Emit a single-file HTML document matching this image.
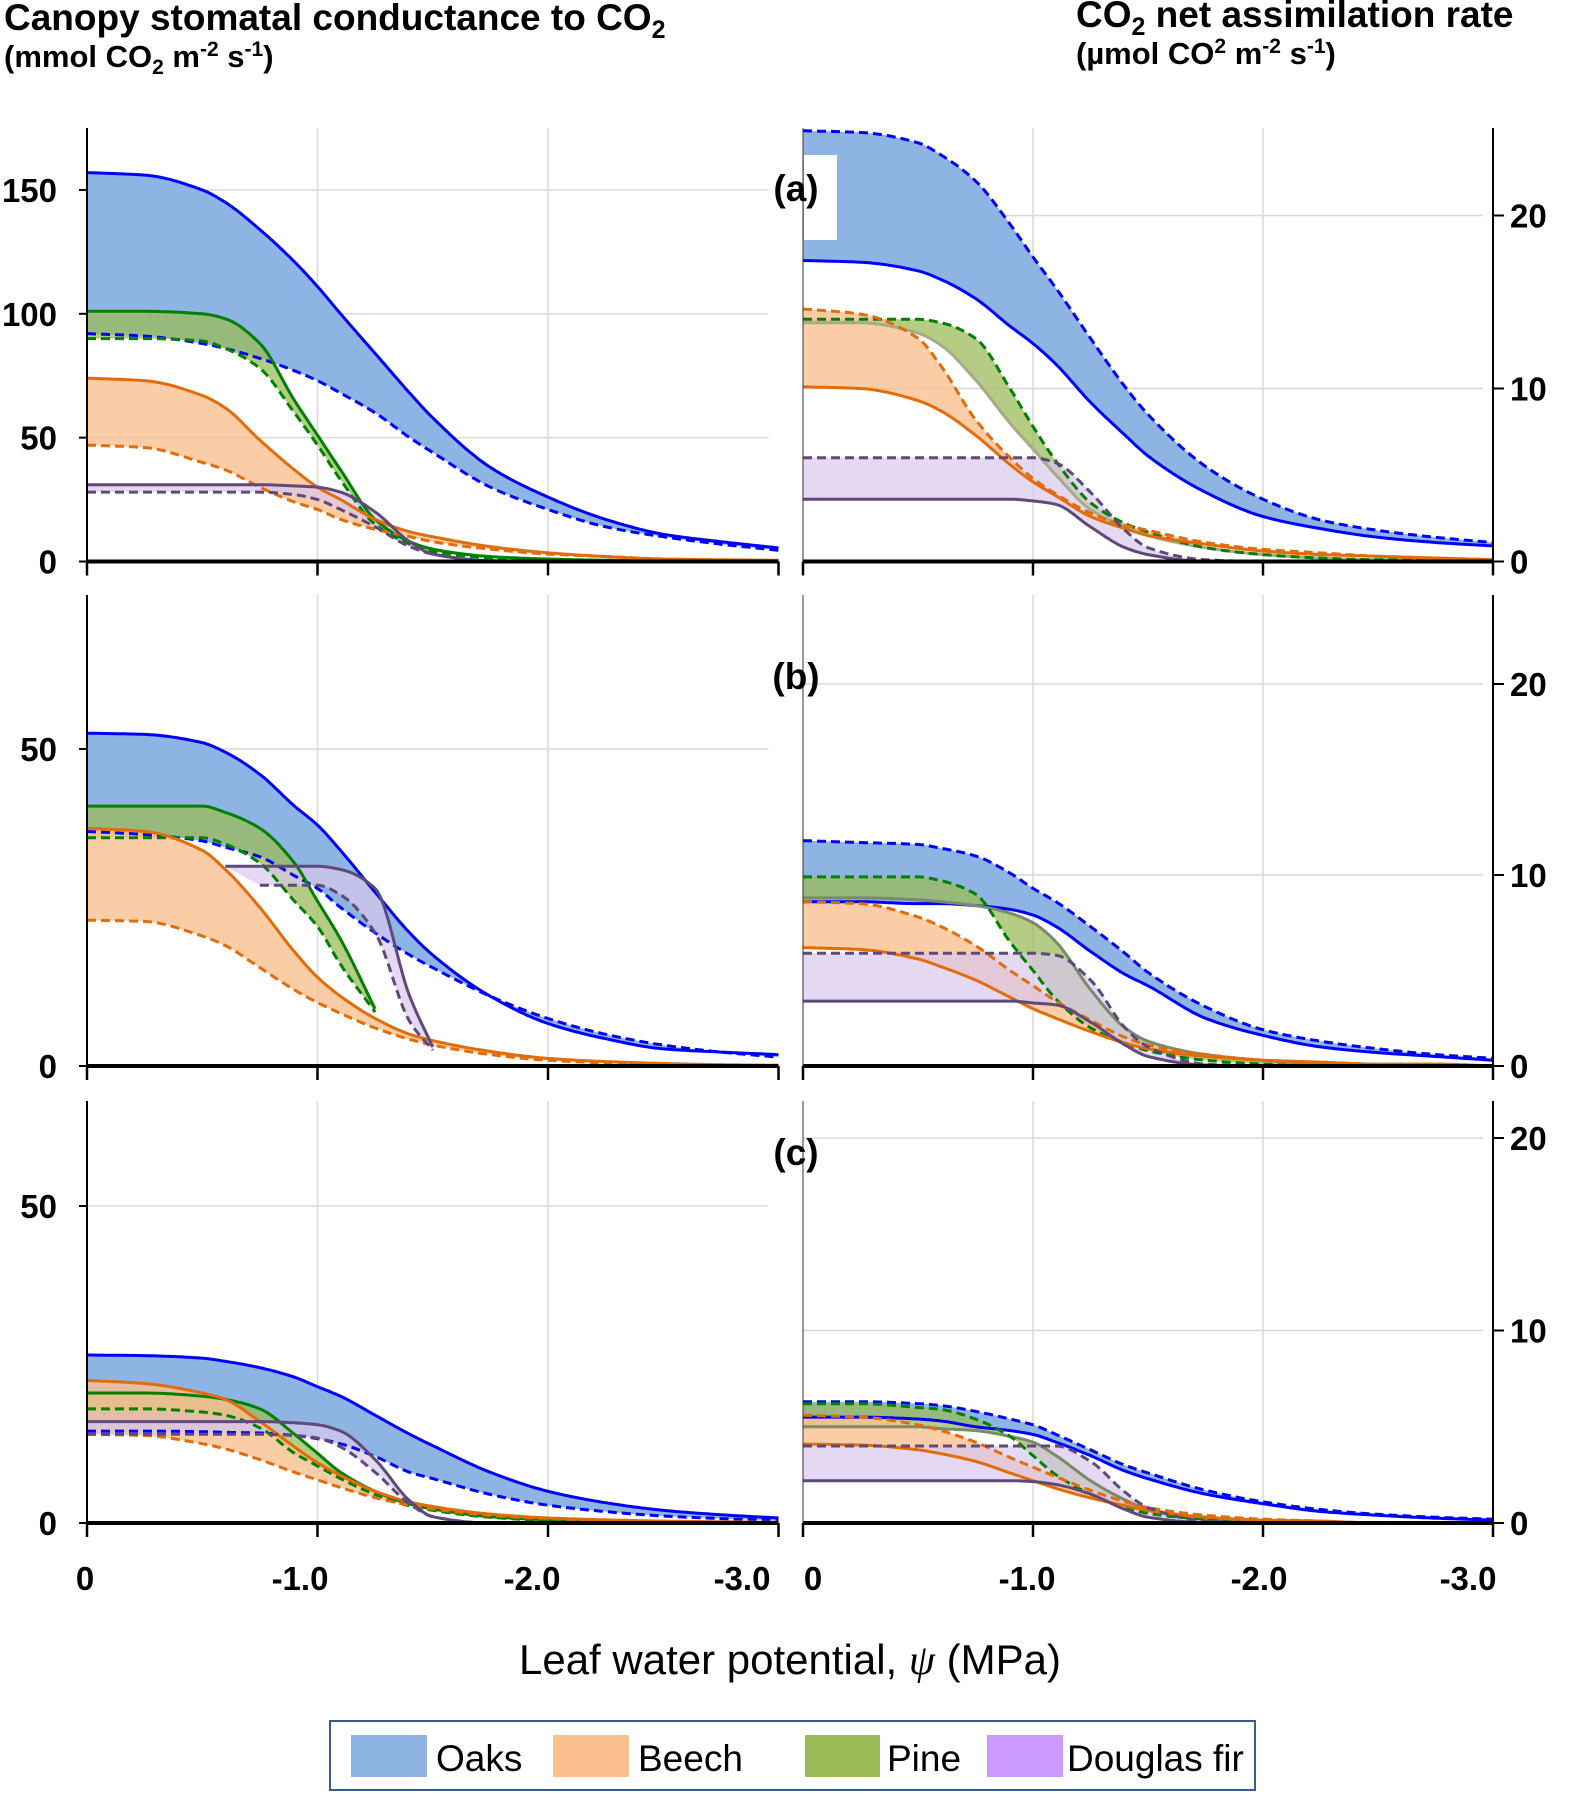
<!DOCTYPE html>
<html><head><meta charset="utf-8">
<style>
html,body{margin:0;padding:0;background:#fff;}
body{width:1570px;height:1793px;overflow:hidden;font-family:"Liberation Sans",Arial,sans-serif;}
svg text{font-family:"Liberation Sans",Arial,sans-serif;}
</style></head>
<body>
<svg id="chart" width="1570" height="1793" viewBox="0 0 1570 1793" xmlns="http://www.w3.org/2000/svg">
  <g font-weight="bold" fill="#000">
    <text x="4" y="30" font-size="37">Canopy stomatal conductance to CO<tspan font-size="25" dy="8">2</tspan></text>
    <text x="4" y="67" font-size="31">(mmol CO<tspan font-size="21" dy="7">2</tspan><tspan dy="-7"> m</tspan><tspan font-size="21" dy="-11">-2</tspan><tspan dy="11"> s</tspan><tspan font-size="21" dy="-11">-1</tspan><tspan dy="11">)</tspan></text>
    <text x="1076" y="27" font-size="37">CO<tspan font-size="25" dy="8">2</tspan><tspan dy="-8"> net assimilation rate</tspan></text>
    <text x="1076" y="64" font-size="31">(µmol CO<tspan font-size="21" dy="-11">2</tspan><tspan dy="11"> m</tspan><tspan font-size="21" dy="-11">-2</tspan><tspan dy="11"> s</tspan><tspan font-size="21" dy="-11">-1</tspan><tspan dy="11">)</tspan></text>
  </g>
  <g id="plots"></g>
  <text x="790" y="1674" font-size="42" text-anchor="middle">Leaf water potential, <tspan font-style="italic" font-family="Liberation Serif, serif">ψ</tspan> (MPa)</text>
  <g>
    <rect x="330" y="1721" width="925" height="69" fill="#fff" stroke="#385d8a" stroke-width="2"/>
    <rect x="351" y="1735" width="76" height="42" fill="#8eb4e3"/>
    <text x="436" y="1771" font-size="37">Oaks</text>
    <rect x="553" y="1735" width="76" height="42" fill="#fac090"/>
    <text x="638" y="1771" font-size="37">Beech</text>
    <rect x="805" y="1735" width="75" height="42" fill="#9bbb59"/>
    <text x="887" y="1771" font-size="37">Pine</text>
    <rect x="987" y="1735" width="76" height="42" fill="#cc99ff"/>
    <text x="1067" y="1771" font-size="37">Douglas fir</text>
  </g>
</svg>
<script>
// shared psi grid (MPa)
const psiGrid = [0,-0.25,-0.5,-0.6,-0.75,-0.9,-1.0,-1.1,-1.25,-1.4,-1.5,-1.75,-2.0,-2.25,-2.5,-2.75,-3.0];
const xTickLabels = ["0","-1.0","-2.0","-3.0"];
const xTickValues = [0,-1,-2,-3];
const N = null;
// Panel (a) left: stomatal conductance
const aL_oakSolid   = [157,156,150,145,134,121,111,100,84,68,58,38,26,17,11,8,5.5];
const aL_oakDash    = [92,91,88,86,82,77,73,68,60,50,44,30,21,14,10,7,4.5];
const aL_pineSolid  = [101,101,100,98,88,65,51,37,17,8,5,2,1,0.5,0.3,0.2,0.1];
const aL_pineDash   = [90,90,89,86,78,60,47,33,15,7,4,1.5,0.8,0.4,0.2,0.1,0.1];
const aL_beechSolid = [74,73,67,62,49,37,30,25,17,12,10,6,3.5,2,1,0.7,0.5];
const aL_beechDash  = [47,46,40,37,30,24,21,17,13,10,8,5,3,2,1,0.5,0.3];
const aL_dfSolid    = [31,31,31,31,31,30.5,30,28,20,8,3,0.3,0,0,0,0,0];
const aL_dfDash     = [28,28,28,28,28,27,25,21,14,6,3,0.3,0,0,0,0,0];
// Panel (a) right: assimilation
const aR_oakDash    = [24.9,24.8,24.2,23.5,22,19.5,17.6,15.8,12.9,10.1,8.5,5.5,3.6,2.4,1.8,1.4,1.1];
const aR_oakSolid   = [17.4,17.3,16.8,16.3,15.2,13.6,12.6,11.4,9.2,7.3,6.1,4,2.6,1.9,1.4,1.1,0.9];
const aR_pineDash   = [14,14,14,13.8,12.9,10,7.8,5.8,3.4,2.2,1.7,0.8,0.4,0.2,0.1,0.1,0];
const aR_pineSolid  = [13.8,13.8,13.2,12.5,10.5,8,6.5,5,3,2,1.5,0.8,0.4,0.2,0.1,0.1,0];
const aR_beechDash  = [14.6,14.3,12.9,11.3,8.2,6,4.8,3.9,2.8,2.1,1.8,1.1,0.7,0.5,0.3,0.2,0.1];
const aR_beechSolid = [10.1,10,9.3,8.7,7.3,5.6,4.6,3.8,2.6,1.9,1.5,1,0.6,0.4,0.3,0.2,0.1];
const aR_dfDash     = [6,6,6,6,6,6,6,5.7,4,1.8,0.8,0.1,0,0,0,0,0];
const aR_dfSolid    = [3.6,3.6,3.6,3.6,3.6,3.6,3.5,3.3,2,0.8,0.4,0,0,0,0,0,0];
// Panel (b) left
const bL_oakSolid   = [52.5,52.3,51,49.5,46,41,38,34,27.4,21,17.5,11,6.7,4.3,2.7,2.2,1.8];
const bL_oakDash    = [37,36.5,35.5,34.5,33,30,28,25,21,17.5,15.5,11,7.5,5,3.3,2.2,1.4];
const bL_pineSolid  = [41,41,41,40,37.5,32,26,20,9,N,N,N,N,N,N,N,N];
const bL_pineDash   = [36,36,36,35,32,26,22,16,8.5,N,N,N,N,N,N,N,N];
const bL_beechSolid = [37.5,37,34,31,25,18,14,11,7.5,5,4,2.3,1.2,0.7,0.4,0.2,0.1];
const bL_beechDash  = [23,22.8,20.5,19,15.5,12,10,8.3,6,4.2,3.3,1.8,0.9,0.5,0.3,0.2,0.1];
const bL_dfSolid    = [N,N,N,31.5,31.5,31.5,31.5,31,28,11,3,N,N,N,N,N,N];
const bL_dfDash     = [N,N,N,N,28.5,28.5,28.5,27,21,7,2.5,N,N,N,N,N,N];
// Panel (b) right
const bR_oakDash    = [11.8,11.7,11.6,11.4,11,10.1,9.3,8.6,7.3,5.9,4.9,3.1,1.9,1.3,0.9,0.6,0.4];
const bR_oakSolid   = [8.6,8.6,8.5,8.5,8.4,8.2,7.9,7.3,6,4.8,4.2,2.5,1.6,1,0.7,0.5,0.3];
const bR_pineDash   = [9.9,9.9,9.9,9.7,9,6.5,5,3.5,2,1.2,0.8,0.3,0.1,0,0,0,0];
const bR_pineSolid  = [8.8,8.8,8.7,8.6,8.4,8,7.5,6.5,4,2,1.3,0.6,0.3,0.1,0,0,0];
const bR_beechDash  = [8.6,8.5,7.8,7.3,6.3,5,4.2,3.4,2.4,1.5,1.1,0.6,0.3,0.2,0.1,0.1,0];
const bR_beechSolid = [6.2,6.1,5.6,5.2,4.5,3.6,3,2.5,1.8,1.2,0.9,0.5,0.3,0.2,0.1,0.1,0];
const bR_dfDash     = [5.9,5.9,5.9,5.9,5.9,5.9,5.9,5.8,4.5,2,1,0.1,0,0,0,0,0];
const bR_dfSolid    = [3.4,3.4,3.4,3.4,3.4,3.4,3.3,3.2,2.3,1.1,0.5,0.05,0,0,0,0,0];
// Panel (c) left
const cL_oakSolid   = [26.5,26.4,26,25.5,24.5,23,21.5,20,17,14,12.2,8,5,3.2,2,1.3,0.8];
const cL_oakDash    = [14.5,14.5,14.4,14.3,14.2,13.8,13.3,12.5,10.5,8,7,4.5,2.8,1.8,1.1,0.7,0.4];
const cL_pineSolid  = [20.5,20.5,20,19.5,18,14,11,8,5,3,2.2,1,0.5,0.2,0.1,0,0];
const cL_pineDash   = [18,18,17.5,17,15,11,9,7,4.5,2.7,2,0.9,0.4,0.2,0.1,0,0];
const cL_beechSolid = [22.5,22,20.5,19.5,16,12,9.5,7.5,5,3.3,2.6,1.4,0.8,0.5,0.3,0.2,0.1];
const cL_beechDash  = [14,13.8,12.5,11.7,10,8,6.8,5.6,4,2.8,2.2,1.2,0.7,0.4,0.2,0.1,0];
const cL_dfSolid    = [16,16,16,16,16,15.8,15.5,14.5,10,3.5,1,0,0,0,0,0,0];
const cL_dfDash     = [14,14,14,14,14,13.8,13.4,12,8,3,1,0,0,0,0,0,0];
// Panel (c) right
const cR_oakDash    = [6.3,6.3,6.2,6.1,5.8,5.4,5.1,4.6,3.8,3,2.6,1.7,1.1,0.7,0.45,0.3,0.2];
const cR_oakSolid   = [5.5,5.5,5.4,5.3,5,4.8,4.6,4.2,3.5,2.7,2.3,1.5,1,0.6,0.4,0.25,0.15];
const cR_pineDash   = [6.2,6.2,6,5.9,5.4,4.5,3.5,2.5,1.5,0.8,0.5,0.2,0.1,0,0,0,0];
const cR_pineSolid  = [5,5,5,4.9,4.8,4.5,4.2,3.5,2.2,1.2,0.7,0.2,0.1,0,0,0,0];
const cR_beechDash  = [5.6,5.5,5.1,4.8,4.2,3.4,2.9,2.4,1.7,1.1,0.8,0.4,0.2,0.1,0,0,0];
const cR_beechSolid = [4.1,4.05,3.8,3.6,3.2,2.6,2.2,1.8,1.3,0.9,0.65,0.3,0.15,0.1,0,0,0];
const cR_dfDash     = [4,4,4,4,4,4,4,4,3.2,1.6,0.8,0.1,0,0,0,0,0];
const cR_dfSolid    = [2.2,2.2,2.2,2.2,2.2,2.2,2.15,2,1.5,0.7,0.3,0.02,0,0,0,0,0];
// tick values
const aL_yTicks = [0,50,100,150];
const aR_yTicks = [0,10,20];
const bL_yTicks = [0,50];
const bR_yTicks = [0,10,20];
const cL_yTicks = [0,50];
const cR_yTicks = [0,10,20];

const NS = "http://www.w3.org/2000/svg";
const root = document.getElementById("plots");
function mk(tag, attrs, parent){
  const e = document.createElementNS(NS, tag);
  for (const k in attrs) e.setAttribute(k, attrs[k]);
  (parent||root).appendChild(e);
  return e;
}
const species = {
  oak:   {fill:"#8eb4e3", op:1,    line:"#0000ff"},
  pine:  {fill:"#9bbb59", op:0.75, line:"#008000"},
  beech: {fill:"#fac090", op:0.8,  line:"#e36c09"},
  df:    {fill:"#d9c8ee", op:0.7,  line:"#5f497a"}
};
function sampleCurve(xs, ys){
  const n = xs.length;
  if (n<2) return [[xs[0],ys[0]]];
  const d = [], m = new Array(n).fill(0);
  for (let i=0;i<n-1;i++) d.push((ys[i+1]-ys[i])/(xs[i+1]-xs[i]));
  m[0]=d[0]; m[n-1]=d[n-2];
  for (let i=1;i<n-1;i++){
    if (d[i-1]*d[i]<=0) m[i]=0;
    else { const h0=xs[i]-xs[i-1], h1=xs[i+1]-xs[i];
      const w1=2*h1+h0, w2=h1+2*h0; m[i]=(w1+w2)/(w1/d[i-1]+w2/d[i]); }
  }
  const out=[];
  for (let i=0;i<n-1;i++){
    const h=xs[i+1]-xs[i];
    for (let s=0;s<20;s++){
      const t=s/20, t2=t*t, t3=t2*t;
      const y=(2*t3-3*t2+1)*ys[i]+(t3-2*t2+t)*h*m[i]+(-2*t3+3*t2)*ys[i+1]+(t3-t2)*h*m[i+1];
      out.push([xs[i]+t*h, y]);
    }
  }
  out.push([xs[n-1], ys[n-1]]);
  return out;
}
function defined(arr){
  const xs=[], ys=[];
  arr.forEach((v,i)=>{ if(v!==null){ xs.push(-psiGrid[i]); ys.push(v);} });
  return [xs, ys];
}
function drawPanel(p){
  const g = mk("g", {});
  
  
  const X = v => p.x0 + p.kx*(-v);
  const Y = v => p.y0 - p.ky*v;
  p.yTicks.forEach(t => {
    if (t===0) return;
    const l = mk("line",{x1:p.x0,x2:p.x0+p.kx*3-10,y1:Y(t),y2:Y(t),stroke:"#d9d9d9","stroke-width":1.5},g);
    
    
  });
  [-1,-2].forEach(t => {
    const l = mk("line",{x1:X(t),x2:X(t),y1:p.top,y2:p.y0,stroke:"#d9d9d9","stroke-width":1.5},g);
    
    
  });
  p.series.forEach(s => {
    const sp = species[s.sp];
    const [xa, ya] = defined(s.solid), [xb, yb] = defined(s.dash);
    const A = sampleCurve(xa, ya), B = sampleCurve(xb, yb);
    const pts = A.map(q=>X(-q[0]).toFixed(1)+","+Y(q[1]).toFixed(1))
      .concat(B.slice().reverse().map(q=>X(-q[0]).toFixed(1)+","+Y(q[1]).toFixed(1)));
    const poly = mk("polygon",{points:pts.join(" "),fill:sp.fill,"fill-opacity":sp.op},g);
    
    
    s._A=A; s._B=B;
  });
  p.series.forEach(s => {
    const sp = species[s.sp];
    const col = s.lineSolid || sp.line;
    const pathA = "M"+s._A.map(q=>X(-q[0]).toFixed(1)+","+Y(q[1]).toFixed(1)).join("L");
    const pathB = "M"+s._B.map(q=>X(-q[0]).toFixed(1)+","+Y(q[1]).toFixed(1)).join("L");
    const la = mk("path",{d:pathA,fill:"none",stroke:col,"stroke-width":3},g);
    
    
    const lb = mk("path",{d:pathB,fill:"none",stroke:sp.line,"stroke-width":3,"stroke-dasharray":"9,5"},g);
    
    
  });
  const xl = X(-3);
  const za = mk("line",{x1:p.x0,x2:xl,y1:p.y0,y2:p.y0,stroke:"#000","stroke-width":4},g);
  
  
  xTickValues.forEach(t=>{
    const tk = mk("line",{x1:X(t),x2:X(t),y1:p.y0,y2:p.y0+14,stroke:"#000","stroke-width":2.5},g);
    
    
  });
  const axX = p.side==="L" ? p.x0 : xl;
  const va = mk("line",{x1:axX,x2:axX,y1:p.top,y2:p.y0,stroke:"#000","stroke-width":2},g);
  
  
  if (p.side==="R"){
    const vl = mk("line",{x1:p.x0,x2:p.x0,y1:p.top,y2:p.y0,stroke:"#333","stroke-width":1},g);
    
    
  }
  p.yTicks.forEach(t=>{
    const y = Y(t);
    const tk = mk("line",{x1:p.side==="L"?axX-8:axX,x2:p.side==="L"?axX:axX+11,y1:y,y2:y,stroke:"#000","stroke-width":2},g);
    
    
    const tx = mk("text",{x:p.side==="L"?57:1510,y:y+12,"font-size":33,"font-weight":"bold","text-anchor":p.side==="L"?"end":"start"},g);
    tx.textContent = String(t);
    
    
  });
}
const panels = [
 {name:"panel-a-conductance",side:"L",x0:87,kx:230.5,y0:561.5,ky:2.477,top:128,yTicks:aL_yTicks,series:[
   {sp:"oak",solid:aL_oakSolid,dash:aL_oakDash},{sp:"pine",solid:aL_pineSolid,dash:aL_pineDash},
   {sp:"beech",solid:aL_beechSolid,dash:aL_beechDash},{sp:"df",solid:aL_dfSolid,dash:aL_dfDash}]},
 {name:"panel-a-assimilation",side:"R",x0:803,kx:230,y0:561.5,ky:17.3,top:128,yTicks:aR_yTicks,series:[
   {sp:"oak",solid:aR_oakSolid,dash:aR_oakDash},{sp:"pine",solid:aR_pineSolid,dash:aR_pineDash,lineSolid:"#a8a88a"},
   {sp:"beech",solid:aR_beechSolid,dash:aR_beechDash},{sp:"df",solid:aR_dfSolid,dash:aR_dfDash}]},
 {name:"panel-b-conductance",side:"L",x0:87,kx:230.5,y0:1066,ky:6.34,top:595,yTicks:bL_yTicks,series:[
   {sp:"oak",solid:bL_oakSolid,dash:bL_oakDash},{sp:"pine",solid:bL_pineSolid,dash:bL_pineDash},
   {sp:"beech",solid:bL_beechSolid,dash:bL_beechDash},{sp:"df",solid:bL_dfSolid,dash:bL_dfDash}]},
 {name:"panel-b-assimilation",side:"R",x0:803,kx:230,y0:1066,ky:19.1,top:595,yTicks:bR_yTicks,series:[
   {sp:"oak",solid:bR_oakSolid,dash:bR_oakDash},{sp:"pine",solid:bR_pineSolid,dash:bR_pineDash,lineSolid:"#7a8a6a"},
   {sp:"beech",solid:bR_beechSolid,dash:bR_beechDash},{sp:"df",solid:bR_dfSolid,dash:bR_dfDash}]},
 {name:"panel-c-conductance",side:"L",x0:87,kx:230.5,y0:1523,ky:6.34,top:1101,yTicks:cL_yTicks,series:[
   {sp:"oak",solid:cL_oakSolid,dash:cL_oakDash},{sp:"pine",solid:cL_pineSolid,dash:cL_pineDash},
   {sp:"beech",solid:cL_beechSolid,dash:cL_beechDash},{sp:"df",solid:cL_dfSolid,dash:cL_dfDash}]},
 {name:"panel-c-assimilation",side:"R",x0:803,kx:230,y0:1523,ky:19.25,top:1101,yTicks:cR_yTicks,series:[
   {sp:"oak",solid:cR_oakSolid,dash:cR_oakDash},{sp:"pine",solid:cR_pineSolid,dash:cR_pineDash,lineSolid:"#7a8a6a"},
   {sp:"beech",solid:cR_beechSolid,dash:cR_beechDash},{sp:"df",solid:cR_dfSolid,dash:cR_dfDash}]}
];
panels.forEach(drawPanel);
const patch = mk("rect",{x:804,y:155,width:33,height:85,fill:"#fff"});


[["(a)",201],["(b)",689],["(c)",1165]].forEach(([t,y])=>{
  const e = mk("text",{x:796,y:y,"font-size":37,"font-weight":"bold","text-anchor":"middle"});
  e.textContent = t;
  
  
});
const leftX = [85,300,532,742], rightX = [813,1027,1259,1468];
xTickLabels.forEach((t,i)=>{
  [leftX[i], rightX[i]].forEach(x=>{
    const e = mk("text",{x:x,y:1590,"font-size":33,"font-weight":"bold","text-anchor":"middle"});
    e.textContent = t;
    
    
  });
});
</script>
</body></html>
